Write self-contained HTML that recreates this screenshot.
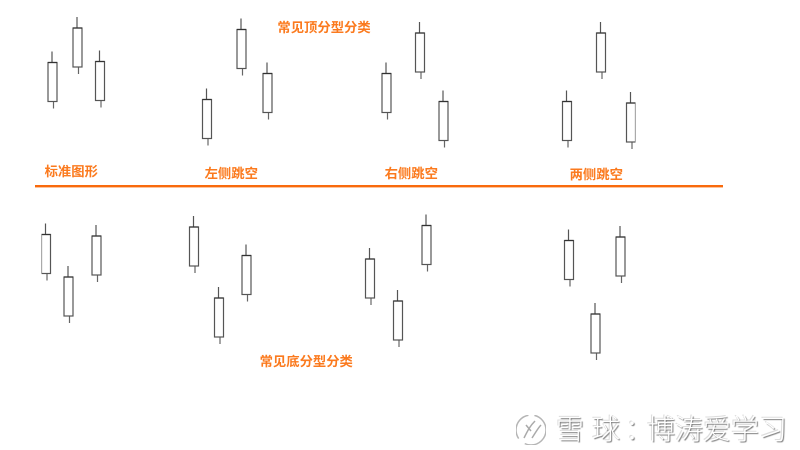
<!DOCTYPE html>
<html lang="zh">
<head>
<meta charset="utf-8">
<style>
html,body{margin:0;padding:0;background:#fff}
#c{position:relative;width:800px;height:450px;overflow:hidden;background:#fff}
svg{position:absolute;left:0;top:0}
.t{position:absolute;font:bold 13.33px/16px "Liberation Sans","Noto Sans CJK SC",sans-serif;color:#fb7a1e;white-space:nowrap;filter:blur(.25px)}
.w{position:absolute;top:410px;font:300 28px/36px "Noto Sans CJK SC",sans-serif;color:#fff;text-shadow:1px 1px 1px #777,-1px -1px 0 #ddd;white-space:nowrap;filter:blur(.3px)}
</style>
</head>
<body>
<div id="c">
<svg width="800" height="450" viewBox="0 0 800 450">
<defs>
<g id="k" fill="none" stroke="#555" stroke-width="1.2">
<path d="M4 -11V0" />
<path d="M5.5 39V46" stroke="#666"/>
<rect x="0" y="0" width="9" height="39" fill="#fff"/>
<path d="M0 0H9" stroke="#333"/>
</g>
<filter id="b" x="0" y="0" width="100%" height="100%"><feGaussianBlur stdDeviation="0.3"/></filter>
</defs>
<g filter="url(#b)">
<use href="#k" x="48" y="62.5"/>
<use href="#k" x="73" y="28"/>
<use href="#k" x="95.5" y="61.5"/>
<use href="#k" x="202.5" y="99.5"/>
<use href="#k" x="237" y="29.5"/>
<use href="#k" x="263" y="73.5"/>
<use href="#k" x="382" y="73.5"/>
<use href="#k" x="415.5" y="33"/>
<use href="#k" x="439" y="101.5"/>
<use href="#k" x="596.5" y="33"/>
<use href="#k" x="562.5" y="101.5"/>
<use href="#k" x="626.5" y="103"/>
<use href="#k" x="41.5" y="234.5"/>
<use href="#k" x="64" y="277"/>
<use href="#k" x="92" y="236"/>
<use href="#k" x="189.5" y="227"/>
<use href="#k" x="214.5" y="298"/>
<use href="#k" x="242" y="255.5"/>
<use href="#k" x="365.5" y="259"/>
<use href="#k" x="393.5" y="301"/>
<use href="#k" x="422" y="225.5"/>
<use href="#k" x="564.5" y="240.5"/>
<use href="#k" x="591" y="314"/>
<use href="#k" x="616" y="237"/>
</g>
<rect x="35" y="185" width="688" height="2.4" fill="#f96a0c"/>
<g fill="none" stroke-width="1.5" filter="url(#b)">
<circle cx="531" cy="430" r="15" stroke="#b5b5b5" stroke-dasharray="30 8 30 6"/>
<path d="M524 438C528 430 530 426 535 421M532 438C536 432 538 428 541 425M526 425L531 431" stroke="#aaa"/>
</g>
</svg>
<div class="t" style="left:44.6px;top:164px">标准图形</div>
<div class="t" style="left:204.6px;top:166px">左侧跳空</div>
<div class="t" style="left:384.6px;top:166px">右侧跳空</div>
<div class="t" style="left:569.6px;top:167px">两侧跳空</div>
<div class="t" style="left:277.4px;top:20px">常见顶分型分类</div>
<div class="t" style="left:259.6px;top:354px">常见底分型分类</div>
<div class="w" style="left:556px">雪</div>
<div class="w" style="left:592px">球</div>
<div class="w" style="left:625px">：</div>
<div class="w" style="left:647px">博</div>
<div class="w" style="left:675px">涛</div>
<div class="w" style="left:703px">爱</div>
<div class="w" style="left:731px">学</div>
<div class="w" style="left:759px">习</div>
</div>
</body>
</html>
